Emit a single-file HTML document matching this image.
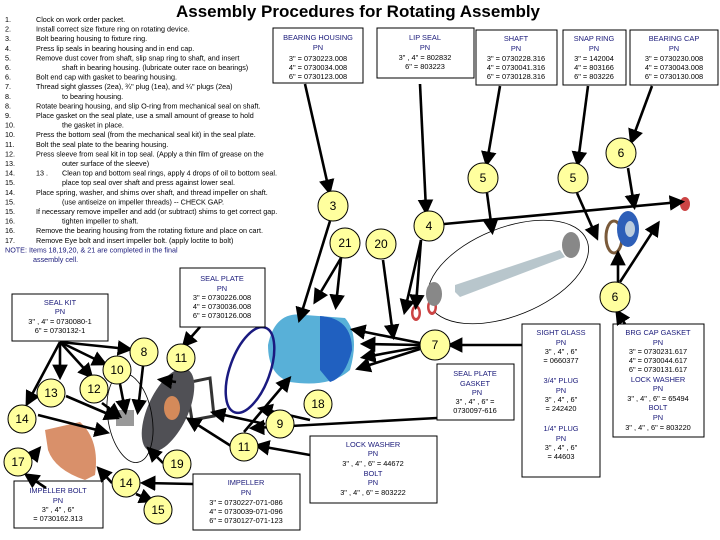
<!DOCTYPE html>
<html><head><meta charset="utf-8"><style>
html,body{margin:0;padding:0;background:#fff}
svg{display:block}
text{font-family:"Liberation Sans",Arial,sans-serif}
.t{font-size:7.2px;fill:#000}
.b{font-size:7.4px;fill:#1a1a7a;text-anchor:middle}
.k{font-size:7.4px;fill:#000;text-anchor:middle}
.c{fill:#ffff9e;stroke:#000;stroke-width:1}
.n{font-size:12px;text-anchor:middle;fill:#000}
.a{stroke:#000;stroke-width:2.6;fill:none;marker-end:url(#ah)}
.box{fill:#fff;stroke:#000;stroke-width:1}
</style></head><body>
<svg width="720" height="540" viewBox="0 0 720 540">
<defs><marker id="ah" markerWidth="6" markerHeight="6" refX="4" refY="3" orient="auto" markerUnits="strokeWidth"><path d="M0,0 L6,3 L0,6z" fill="#000"/></marker></defs>
<text x="358" y="17" font-size="17" font-weight="bold" text-anchor="middle">Assembly Procedures for Rotating Assembly</text>
<g class="t">
<text x="5" y="22">1.</text><text x="36" y="22">Clock on work order packet.</text>
<text x="5" y="31.6">2.</text><text x="36" y="31.6">Install correct size fixture ring on rotating device.</text>
<text x="5" y="41.2">3.</text><text x="36" y="41.2">Bolt bearing housing to fixture ring.</text>
<text x="5" y="50.8">4.</text><text x="36" y="50.8">Press lip seals in bearing housing and in end cap.</text>
<text x="5" y="60.4">5.</text><text x="36" y="60.4">Remove dust cover from shaft, slip snap ring to shaft, and insert</text>
<text x="5" y="70">6.</text><text x="62" y="70">shaft in bearing housing. (lubricate outer race on bearings)</text>
<text x="5" y="79.6">6.</text><text x="36" y="79.6">Bolt end cap with gasket to bearing housing.</text>
<text x="5" y="89.2">7.</text><text x="36" y="89.2">Thread sight glasses (2ea), ¾" plug (1ea), and ¼" plugs (2ea)</text>
<text x="5" y="98.8">8.</text><text x="62" y="98.8">to bearing housing.</text>
<text x="5" y="108.4">8.</text><text x="36" y="108.4">Rotate bearing housing, and slip O-ring from mechanical seal on shaft.</text>
<text x="5" y="118">9.</text><text x="36" y="118">Place gasket on the seal plate, use a small amount of grease to hold</text>
<text x="5" y="127.6">10.</text><text x="62" y="127.6">the gasket in place.</text>
<text x="5" y="137.2">10.</text><text x="36" y="137.2">Press the bottom seal (from the mechanical seal kit) in the seal plate.</text>
<text x="5" y="146.8">11.</text><text x="36" y="146.8">Bolt the seal plate to the bearing housing.</text>
<text x="5" y="156.4">12.</text><text x="36" y="156.4">Press sleeve from seal kit in top seal. (Apply a thin film of grease on the</text>
<text x="5" y="166">13.</text><text x="62" y="166">outer surface of the sleeve)</text>
<text x="5" y="175.6">14.</text><text x="36" y="175.6">13 .</text><text x="62" y="175.6">Clean top and bottom seal rings, apply 4 drops of oil to bottom seal.</text>
<text x="5" y="185.2">15.</text><text x="62" y="185.2">place top seal over shaft and press against lower seal.</text>
<text x="5" y="194.8">14.</text><text x="36" y="194.8">Place spring, washer, and shims over shaft, and thread impeller on shaft.</text>
<text x="5" y="204.4">15.</text><text x="62" y="204.4">(use antiseize on impeller threads) -- CHECK GAP.</text>
<text x="5" y="214">15.</text><text x="36" y="214">If necessary remove impeller and add (or subtract) shims to get correct gap.</text>
<text x="5" y="223.6">16.</text><text x="62" y="223.6">tighten impeller to shaft.</text>
<text x="5" y="233.2">16.</text><text x="36" y="233.2">Remove the bearing housing from the rotating fixture and place on cart.</text>
<text x="5" y="242.8">17.</text><text x="36" y="242.8">Remove Eye bolt and insert impeller bolt. (apply loctite to bolt)</text>
<text x="5" y="252.4" fill="#1a1a7a">NOTE: Items 18,19,20, &amp; 21 are completed in the final</text>
<text x="33" y="262" fill="#1a1a7a">assembly cell.</text>
</g>
<!-- parts drawings -->
<ellipse cx="508" cy="272" rx="85" ry="44" transform="rotate(-22 508 272)" fill="none" stroke="#000" stroke-width="0.8"/>
<polygon points="455,292 455,285 560,250 565,257 460,297" fill="#b8c6cc"/>
<ellipse cx="432" cy="307" rx="5" ry="8" fill="#c44" /><ellipse cx="416" cy="313" rx="5" ry="8" fill="#c44"/>
<ellipse cx="432" cy="307" rx="2.5" ry="5" fill="#fff" /><ellipse cx="416" cy="313" rx="2.5" ry="5" fill="#fff"/>
<ellipse cx="434" cy="294" rx="8" ry="12" fill="#888"/>
<ellipse cx="571" cy="245" rx="9" ry="13" fill="#888"/>
<ellipse cx="614" cy="237" rx="8" ry="16" fill="none" stroke="#7a5a3a" stroke-width="3"/>
<ellipse cx="628" cy="229" rx="11" ry="18" fill="#2e5fb8"/><ellipse cx="630" cy="229" rx="5" ry="8" fill="#bcd"/>
<ellipse cx="685" cy="204" rx="5" ry="7" fill="#c44"/>
<path d="M268,345 Q275,310 305,315 L345,318 Q360,335 350,370 Q330,388 290,382 Q268,375 268,345z" fill="#58b0d8"/>
<path d="M320,316 Q352,318 352,350 Q345,378 330,382 L320,370z" fill="#2060c0"/>
<ellipse cx="250" cy="370" rx="20" ry="45" fill="none" stroke="#1a1a80" stroke-width="2.5" transform="rotate(20 250 370)"/>
<path d="M186,383 L210,378 L214,416 L192,420z" fill="none" stroke="#333" stroke-width="3"/>
<ellipse cx="168" cy="410" rx="20" ry="45" fill="#505055" transform="rotate(25 168 410)"/>
<ellipse cx="172" cy="408" rx="8" ry="12" fill="#d48a5a"/>
<ellipse cx="130" cy="418" rx="22" ry="45" fill="none" stroke="#000" stroke-width="0.8" transform="rotate(-10 130 418)"/>
<rect x="116" y="410" width="18" height="16" fill="#999"/>
<path d="M45,430 L80,422 Q100,440 95,475 L85,480 Q55,470 48,450z" fill="#d9906a"/>
<!-- boxes -->
<rect class="box" x="273" y="28" width="90" height="55"/>
<text class="b" x="318" y="40">BEARING HOUSING</text><text class="b" x="318" y="50">PN</text>
<text class="k" x="318" y="61">3" = 0730223.008</text><text class="k" x="318" y="70">4" = 0730034.008</text><text class="k" x="318" y="79">6" = 0730123.008</text>
<rect class="box" x="377" y="28" width="97" height="50"/>
<text class="b" x="425" y="40">LIP SEAL</text><text class="b" x="425" y="50">PN</text>
<text class="k" x="425" y="60">3" , 4" = 802832</text><text class="k" x="425" y="69">6" = 803223</text>
<rect class="box" x="476" y="30" width="81" height="55"/>
<text class="b" x="516" y="41">SHAFT</text><text class="b" x="516" y="51">PN</text>
<text class="k" x="516" y="61">3" = 0730228.316</text><text class="k" x="516" y="70">4" = 0730041.316</text><text class="k" x="516" y="79">6" = 0730128.316</text>
<rect class="box" x="563" y="30" width="63" height="55"/>
<text class="b" x="594" y="41">SNAP RING</text><text class="b" x="594" y="51">PN</text>
<text class="k" x="594" y="61">3" = 142004</text><text class="k" x="594" y="70">4" = 803166</text><text class="k" x="594" y="79">6" = 803226</text>
<rect class="box" x="630" y="30" width="88" height="55"/>
<text class="b" x="674" y="41">BEARING CAP</text><text class="b" x="674" y="51">PN</text>
<text class="k" x="674" y="61">3" = 0730230.008</text><text class="k" x="674" y="70">4" = 0730043.008</text><text class="k" x="674" y="79">6" = 0730130.008</text>
<rect class="box" x="180" y="268" width="85" height="59"/>
<text class="b" x="222" y="281">SEAL PLATE</text><text class="b" x="222" y="291">PN</text>
<text class="k" x="222" y="300">3" = 0730226.008</text><text class="k" x="222" y="309">4" = 0730036.008</text><text class="k" x="222" y="318">6" = 0730126.008</text>
<rect class="box" x="12" y="294" width="96" height="47"/>
<text class="b" x="60" y="305">SEAL KIT</text><text class="b" x="60" y="314">PN</text>
<text class="k" x="60" y="324">3" , 4" = 0730080-1</text><text class="k" x="60" y="333">6" = 0730132-1</text>
<rect class="box" x="14" y="481" width="89" height="47"/>
<text class="b" x="58" y="493">IMPELLER BOLT</text><text class="b" x="58" y="503">PN</text>
<text class="k" x="58" y="512">3" , 4" , 6"</text><text class="k" x="58" y="521">= 0730162.313</text>
<rect class="box" x="193" y="474" width="107" height="56"/>
<text class="b" x="246" y="485">IMPELLER</text><text class="b" x="246" y="495">PN</text>
<text class="k" x="246" y="505">3" = 0730227-071-086</text><text class="k" x="246" y="514">4" = 0730039-071-096</text><text class="k" x="246" y="523">6" = 0730127-071-123</text>
<rect class="box" x="310" y="436" width="127" height="67"/>
<text class="b" x="373" y="447">LOCK WASHER</text><text class="b" x="373" y="456">PN</text>
<text class="k" x="373" y="466">3" , 4" , 6" = 44672</text><text class="b" x="373" y="476">BOLT</text><text class="b" x="373" y="485">PN</text>
<text class="k" x="373" y="495">3" , 4" , 6" = 803222</text>
<rect class="box" x="437" y="364" width="77" height="56"/>
<text class="b" x="475" y="376">SEAL PLATE</text><text class="b" x="475" y="386">GASKET</text><text class="b" x="477" y="395">PN</text>
<text class="k" x="475" y="404">3" , 4" , 6" =</text><text class="k" x="475" y="413">0730097-616</text>
<rect class="box" x="522" y="324" width="78" height="153"/>
<text class="b" x="561" y="335">SIGHT GLASS</text><text class="b" x="561" y="345">PN</text>
<text class="k" x="561" y="354">3" , 4" , 6"</text><text class="k" x="561" y="363">= 0660377</text>
<text class="b" x="561" y="383">3/4" PLUG</text><text class="b" x="561" y="393">PN</text>
<text class="k" x="561" y="402">3" , 4" , 6"</text><text class="k" x="561" y="411">= 242420</text>
<text class="b" x="561" y="431">1/4" PLUG</text><text class="b" x="561" y="441">PN</text>
<text class="k" x="561" y="450">3" , 4" , 6"</text><text class="k" x="561" y="459">= 44603</text>
<rect class="box" x="613" y="324" width="91" height="113"/>
<text class="b" x="658" y="335">BRG CAP GASKET</text><text class="b" x="658" y="345">PN</text>
<text class="k" x="658" y="354">3" = 0730231.617</text><text class="k" x="658" y="363">4" = 0730044.617</text><text class="k" x="658" y="372">6" = 0730131.617</text>
<text class="b" x="658" y="382">LOCK WASHER</text><text class="b" x="658" y="391">PN</text>
<text class="k" x="658" y="401">3" , 4" , 6" = 65494</text>
<text class="b" x="658" y="410">BOLT</text><text class="b" x="658" y="420">PN</text>
<text class="k" x="658" y="430">3" , 4" , 6" = 803220</text>
<!-- arrows -->
<path class="a" d="M305,84 L329,190"/><path class="a" d="M330,221 L300,318"/>
<path class="a" d="M420,84 L426,210"/><path class="a" d="M421,240 L405,310"/><path class="a" d="M421,240 L416,305"/><path class="a" d="M444,224 L680,202"/>
<path class="a" d="M500,86 L487,162"/><path class="a" d="M487,193 L492,230"/>
<path class="a" d="M588,86 L578,162"/><path class="a" d="M577,193 L596,236"/>
<path class="a" d="M652,86 L632,140"/><path class="a" d="M628,168 L634,205"/>
<path class="a" d="M618,282 L618,255"/><path class="a" d="M620,282 L657,225"/><path class="a" d="M625,324 L618,313"/>
<path class="a" d="M341,258 L316,300"/><path class="a" d="M341,258 L336,305"/>
<path class="a" d="M383,260 L393,335"/>
<path class="a" d="M420,343 L355,330"/><path class="a" d="M420,345 L365,344"/><path class="a" d="M420,347 L365,357"/><path class="a" d="M420,349 L360,368"/>
<path class="a" d="M522,345 L452,345"/>
<path class="a" d="M437,418 L254,428"/>
<path class="a" d="M200,327 L185,344"/>
<path class="a" d="M60,342 L128,349"/><path class="a" d="M60,342 L103,363"/><path class="a" d="M60,342 L90,375"/><path class="a" d="M60,342 L60,375"/><path class="a" d="M60,342 L28,402"/>
<path class="a" d="M143,366 L138,410"/><path class="a" d="M120,384 L125,410"/><path class="a" d="M102,403 L118,415"/>
<path class="a" d="M66,396 L115,417"/><path class="a" d="M38,415 L105,432"/>
<path class="a" d="M176,382 L162,380"/><path class="a" d="M244,432 L288,380"/><path class="a" d="M310,420 L262,409"/>
<path class="a" d="M265,424 L215,413"/><path class="a" d="M231,446 L190,420"/>
<path class="a" d="M310,455 L259,446"/><path class="a" d="M163,463 L150,450"/>
<path class="a" d="M193,484 L145,483"/><path class="a" d="M112,483 L100,470"/>
<path class="a" d="M46,488 L28,476"/><path class="a" d="M30,460 L38,450"/>
<path class="a" d="M136,494 L150,500"/>
<!-- circles -->
<g>
<circle class="c" cx="621" cy="153" r="15"/><text class="n" x="621" y="157">6</text>
<circle class="c" cx="483" cy="178" r="15"/><text class="n" x="483" y="182">5</text>
<circle class="c" cx="573" cy="178" r="15"/><text class="n" x="573" y="182">5</text>
<circle class="c" cx="333" cy="206" r="15"/><text class="n" x="333" y="210">3</text>
<circle class="c" cx="429" cy="226" r="15"/><text class="n" x="429" y="230">4</text>
<circle class="c" cx="345" cy="243" r="15"/><text class="n" x="345" y="247">21</text>
<circle class="c" cx="381" cy="244" r="15"/><text class="n" x="381" y="248">20</text>
<circle class="c" cx="615" cy="297" r="15"/><text class="n" x="615" y="301">6</text>
<circle class="c" cx="435" cy="345" r="15"/><text class="n" x="435" y="349">7</text>
<circle class="c" cx="144" cy="352" r="14"/><text class="n" x="144" y="356">8</text>
<circle class="c" cx="181" cy="358" r="14"/><text class="n" x="181" y="362">11</text>
<circle class="c" cx="117" cy="370" r="14"/><text class="n" x="117" y="374">10</text>
<circle class="c" cx="51" cy="393" r="14"/><text class="n" x="51" y="397">13</text>
<circle class="c" cx="94" cy="389" r="14"/><text class="n" x="94" y="393">12</text>
<circle class="c" cx="22" cy="419" r="14"/><text class="n" x="22" y="423">14</text>
<circle class="c" cx="318" cy="404" r="14"/><text class="n" x="318" y="408">18</text>
<circle class="c" cx="280" cy="424" r="14"/><text class="n" x="280" y="428">9</text>
<circle class="c" cx="244" cy="447" r="14"/><text class="n" x="244" y="451">11</text>
<circle class="c" cx="18" cy="462" r="14"/><text class="n" x="18" y="466">17</text>
<circle class="c" cx="177" cy="464" r="14"/><text class="n" x="177" y="468">19</text>
<circle class="c" cx="126" cy="483" r="14"/><text class="n" x="126" y="487">14</text>
<circle class="c" cx="158" cy="510" r="14"/><text class="n" x="158" y="514">15</text>
</g>
</svg>
</body></html>
